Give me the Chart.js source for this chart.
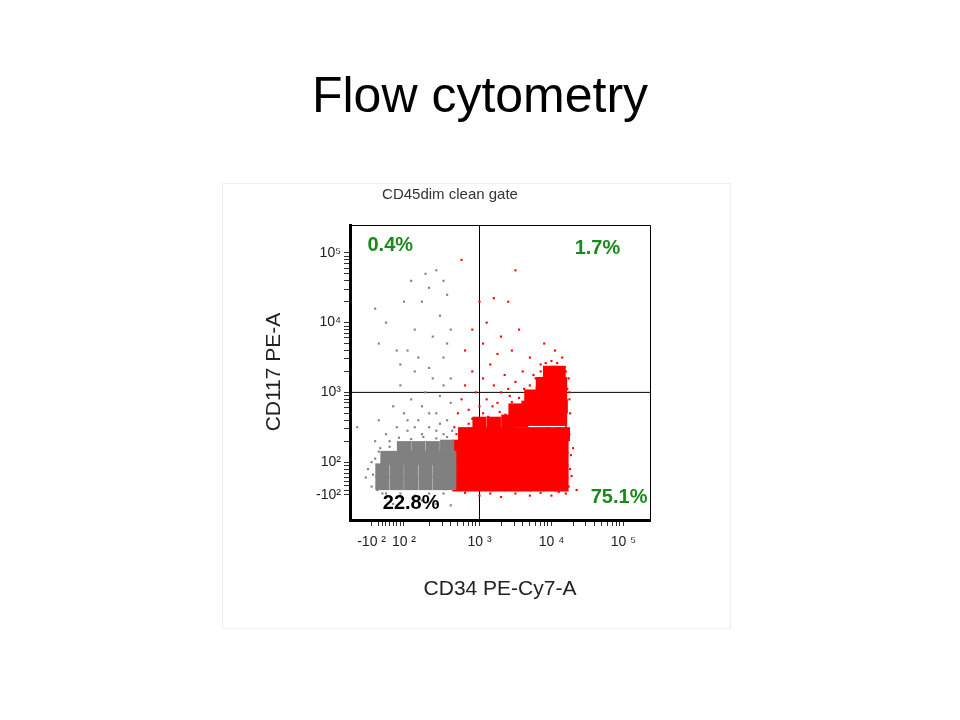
<!DOCTYPE html>
<html><head><meta charset="utf-8">
<script src="https://cdn.jsdelivr.net/npm/chart.js@4"></script>
<style>html,body{margin:0;background:#fff}#c{display:block}</style>
</head><body>
<canvas id="c" width="960" height="720"></canvas>
<script>
// axis values are in decade units (2 = 10^2, 3 = 10^3 ...)
const xTickVals = [1.5, 1.95, 3, 4, 5];
const xTickLabels = ['-10 ²', '10 ²', '10 ³', '10 ⁴', '10 ⁵'];
const yTickVals = [1.53, 2, 3, 4, 5];
const yTickLabels = ['-10²', '10²', '10³', '10⁴', '10⁵'];
const xMinor = [1.6,1.65,1.7,1.75,1.8,1.85,1.9,2.3,2.48,2.6,2.7,2.78,2.85,2.9,2.95,3.3,3.48,3.6,3.7,3.78,3.85,3.9,3.95,4.3,4.48,4.6,4.7,4.78,4.85,4.9,4.95];
const yMinor = [1.6,1.66,1.72,1.78,1.84,1.9,1.95,2.3,2.48,2.6,2.7,2.78,2.85,2.9,2.95,3.3,3.48,3.6,3.7,3.78,3.85,3.9,3.95,4.3,4.48,4.6,4.7,4.78,4.85,4.9,4.95];
const gateX = [[3,1.17],[3,5.4]];
const gateY = [[1.2,3],[5.37,3]];
const greyDense = [
 [1.65,1.7],[1.85,1.7],[2.05,1.7],[2.25,1.7],[2.45,1.7],[2.58,1.7],
 [1.65,1.88],[1.85,1.88],[2.05,1.88],[2.25,1.88],[2.45,1.88],[2.58,1.88],
 [1.72,2.06],[1.9,2.06],[2.08,2.06],[2.26,2.06],[2.45,2.06],[2.58,2.06],
 [1.95,2.2],[2.15,2.2],[2.35,2.2],[2.55,2.22]];
const greySparse = [
 [1.3,2.5],[1.45,1.9],[1.5,2.0],[1.42,1.78],[1.55,2.3],[1.6,2.6],[1.7,2.4],[1.8,2.8],[1.85,2.5],[1.9,3.1],[1.95,2.7],
 [2.0,2.45],[2.05,2.9],[2.1,3.3],[2.15,2.6],[2.2,2.8],[2.25,3.0],[2.3,2.5],[2.35,3.2],[2.4,2.7],[2.45,2.95],[2.5,3.1],[2.55,2.6],[2.6,2.85],[2.6,3.2],
 [2.2,2.4],[2.4,2.45],[2.0,2.6],[2.3,2.7],[2.5,2.4],[1.75,2.3],[2.1,2.5],[2.45,2.55],
 [1.9,3.4],[2.0,3.6],[2.1,3.9],[2.2,4.3],[2.3,4.5],[2.35,3.8],[2.45,4.1],[2.5,3.5],[2.55,4.4],[2.25,4.7],[2.4,4.75],[2.5,4.6],
 [1.6,3.7],[1.55,4.2],[1.7,4.0],[1.95,4.3],[2.05,4.6],[2.6,3.9],[2.3,3.35],[2.55,3.7],[1.85,3.6],[2.15,3.5],
 [1.8,1.4],[2.0,1.35],[2.2,1.45],[2.4,1.4],[2.6,1.38],[1.65,1.55],
 [1.5,1.65],[1.52,1.82],[1.55,2.05],[1.6,2.15],[1.75,2.22],[1.88,2.35],[2.05,2.33],[2.22,2.36],[2.4,2.34],[2.55,2.36],
 [1.7,1.55],[1.9,1.55],[2.1,1.52],[2.3,1.55],[2.5,1.55],[1.58,1.6],[1.62,2.2],[2.62,2.3],[2.62,2.45]];
const redDense = [
 [2.72,1.68],[2.9,1.68],[3.08,1.68],[3.26,1.68],[3.44,1.68],[3.62,1.68],[3.8,1.68],[3.98,1.68],[4.14,1.68],
 [2.72,1.86],[2.9,1.86],[3.08,1.86],[3.26,1.86],[3.44,1.86],[3.62,1.86],[3.8,1.86],[3.98,1.86],[4.14,1.86],
 [2.72,2.04],[2.9,2.04],[3.08,2.04],[3.26,2.04],[3.44,2.04],[3.62,2.04],[3.8,2.04],[3.98,2.04],[4.14,2.04],
 [2.72,2.22],[2.9,2.22],[3.08,2.22],[3.26,2.22],[3.44,2.22],[3.62,2.22],[3.8,2.22],[3.98,2.22],[4.14,2.22],
 [2.8,2.4],[2.98,2.4],[3.16,2.4],[3.34,2.4],[3.52,2.4],[3.7,2.4],[3.88,2.4],[4.04,2.4],[4.16,2.4],
 [3.0,2.55],[3.2,2.55],[3.4,2.58],[3.58,2.6],[3.76,2.62],[3.94,2.62],[4.12,2.62],
 [3.5,2.74],[3.68,2.78],[3.86,2.8],[4.02,2.8],[4.13,2.8],
 [3.72,2.94],[3.88,2.98],[4.02,2.98],[4.12,2.98],
 [3.88,3.12],[4.02,3.14],[4.12,3.12],[3.98,3.28],[4.1,3.28]];
const redSparse = [
 [2.65,2.5],[2.7,2.7],[2.75,2.9],[2.8,3.1],[2.85,2.75],[2.9,3.3],[2.95,3.0],[3.0,2.8],[3.05,3.2],[3.1,2.9],[3.15,3.4],[3.2,3.1],[3.25,2.85],[3.3,3.0],[3.35,3.25],[3.4,3.05],
 [2.8,3.6],[2.9,3.9],[3.0,4.3],[3.05,3.7],[3.1,4.0],[3.2,4.35],[3.3,3.8],[3.45,3.6],[3.55,3.9],[3.7,3.5],[3.85,3.4],[3.9,3.7],[4.05,3.6],[4.15,3.5],[4.2,3.3],[4.25,2.9],[4.3,2.2],[4.28,1.8],[4.35,1.6],[4.22,3.05],[4.2,2.5],
 [2.75,4.9],[3.5,4.75],[3.4,4.3],[3.25,3.55],[3.6,3.3],[3.5,3.15],[4.0,3.45],[3.75,3.25],[2.68,2.3],[2.62,2.1],[2.6,1.8],[2.64,1.62],[3.0,1.52],[3.3,1.5],[3.7,1.52],[4.0,1.52],[4.2,1.55],
 [2.85,2.55],[2.9,2.62],[3.05,2.7],[3.12,2.65],[3.28,2.72],[3.36,2.68],[3.45,2.86],[3.55,2.92],[3.62,3.05],[3.7,3.1],[3.78,3.2],[3.85,3.3],[3.92,3.42],[4.08,3.42],[4.18,3.36],[4.24,3.2],
 [4.25,3.0],[4.26,2.7],[4.25,2.4],[4.27,2.1],[4.26,1.9],[4.24,1.65],[2.8,1.56],[3.15,1.55],[3.5,1.55],[3.85,1.56],[4.1,1.57],[2.66,1.95],[2.68,2.4],[3.18,2.8],[3.42,2.95]];
const quadLabels = [
 {x:1.76,y:5.11,t:'0.4%',c:'#1a8a1a'},{x:4.64,y:5.07,t:'1.7%',c:'#1a8a1a'},
 {x:2.05,y:1.41,t:'22.8%',c:'#000'},{x:4.94,y:1.5,t:'75.1%',c:'#1a8a1a'}];

const pts = a => a.map(p => ({x:p[0], y:p[1]}));
const overlay = {
 id:'overlay',
 beforeDraw(ch){
  const g=ch.ctx; g.save();
  g.strokeStyle='#eeeeee'; g.lineWidth=1; g.strokeRect(222.5,183.5,508,445);
  g.restore();
 },
 afterDraw(ch){
  const g=ch.ctx, a=ch.chartArea, xs=ch.scales.x, ys=ch.scales.y;
  g.save();
  g.strokeStyle='#000'; g.lineWidth=1;
  g.beginPath(); g.moveTo(a.left,a.top+0.5); g.lineTo(a.right+0.5,a.top+0.5); g.lineTo(a.right+0.5,a.bottom); g.stroke();
  g.fillStyle='#000'; g.textAlign='center'; g.textBaseline='alphabetic';
  g.font='50px "Liberation Sans", Arial, sans-serif';
  g.fillText('Flow cytometry',480,112);
  g.font='15px "Liberation Sans", Arial, sans-serif'; g.fillStyle='#333';
  g.fillText('CD45dim clean gate',450,199);
  g.font='21px "Liberation Sans", Arial, sans-serif'; g.fillStyle='#222';
  g.fillText('CD34 PE-Cy7-A',500,595);
  g.save(); g.translate(280,372); g.rotate(-Math.PI/2); g.fillText('CD117 PE-A',0,0); g.restore();
  g.font='bold 20px "Liberation Sans", Arial, sans-serif'; g.textBaseline='middle';
  quadLabels.forEach(q=>{g.fillStyle=q.c; g.fillText(q.t, xs.getPixelForValue(q.x), ys.getPixelForValue(q.y));});
  g.restore();
 }
};
const mkTicks = (vals, minor) => vals.map(v=>({value:v})).concat(minor.map(v=>({value:v})));
new Chart(document.getElementById('c'),{
 type:'scatter',
 data:{datasets:[
  {data:pts(greyDense),backgroundColor:'#808080',borderWidth:0,pointStyle:'rect',pointRadius:10},
  {data:pts(redDense),backgroundColor:'#ff0000',borderWidth:0,pointStyle:'rect',pointRadius:10},
  {data:pts(greySparse),backgroundColor:'#808080',borderWidth:0,pointStyle:'rect',pointRadius:1.5},
  {data:pts(redSparse),backgroundColor:'#ff0000',borderWidth:0,pointStyle:'rect',pointRadius:1.5},
  {data:pts(gateX),showLine:true,borderColor:'#000',borderWidth:1,pointRadius:0},
  {data:pts(gateY),showLine:true,borderColor:'#000',borderWidth:1,pointRadius:0}
 ]},
 options:{
  responsive:false,animation:false,
  layout:{padding:{left:250,right:310,top:225,bottom:120}},
  plugins:{legend:{display:false},tooltip:{enabled:false}},
  scales:{
   x:{type:'linear',min:1.2,max:5.37,
    afterBuildTicks:s=>{s.ticks=mkTicks(xTickVals,xMinor);},
    afterFit:s=>{s.height=80;},
    border:{color:'#000',width:3},
    grid:{drawOnChartArea:false,color:'#333',tickLength:6,lineWidth:1},
    ticks:{autoSkip:false,maxRotation:0,color:'#222',font:{size:14,family:'"Liberation Sans", Arial'},padding:8,
     callback:v=>{const i=xTickVals.indexOf(v);return i>=0?xTickLabels[i]:'';}}},
   y:{type:'linear',min:1.17,max:5.4,
    afterBuildTicks:s=>{s.ticks=mkTicks(yTickVals,yMinor);},
    afterFit:s=>{s.width=100;},
    border:{color:'#000',width:3},
    grid:{drawOnChartArea:false,color:'#333',tickLength:6,lineWidth:1},
    ticks:{autoSkip:false,color:'#222',font:{size:14,family:'"Liberation Sans", Arial'},padding:3,
     callback:v=>{const i=yTickVals.indexOf(v);return i>=0?yTickLabels[i]:'';}}}
  }
 },
 plugins:[overlay]
});
</script>
</body></html>
